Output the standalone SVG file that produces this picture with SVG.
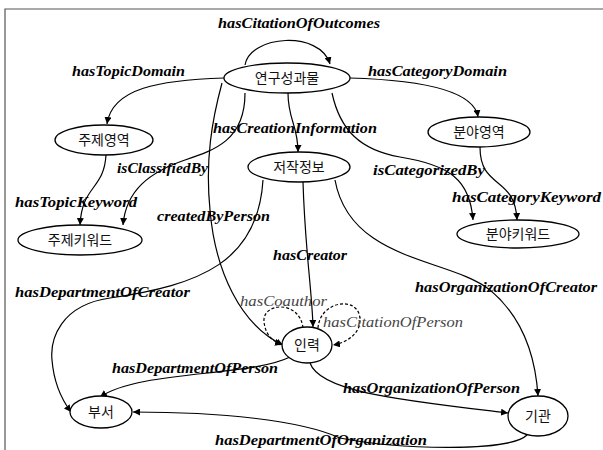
<svg xmlns="http://www.w3.org/2000/svg" width="603" height="450" viewBox="0 0 603 450">
<defs>
<marker id="arr" viewBox="0 0 10 10" refX="10" refY="5" markerWidth="7" markerHeight="7" markerUnits="userSpaceOnUse" orient="auto">
<path d="M0,0 L10,5 L0,10 z" fill="#000"/>
</marker>
<style>
.node ellipse{fill:#fff;stroke:#000;stroke-width:1.3}
.node text{font-family:"Noto Sans CJK KR","Noto Sans",sans-serif;font-size:14px;fill:#111;text-anchor:middle}
.edge{fill:none;stroke:#000;stroke-width:1.2;marker-end:url(#arr)}
.dash{stroke-dasharray:3,2}
.lbl{font-family:"Liberation Serif",serif;font-style:italic;font-weight:bold;font-size:14px;fill:#000}
.lbl2{font-family:"Liberation Serif",serif;font-style:italic;font-size:14px;fill:#444}
.frame{stroke:#555;stroke-width:1.2;fill:none}
</style>
</defs>
<rect width="603" height="450" fill="#fff"/>
<path class="frame" d="M5,450 L5,9 L603,9"/>
<g id="connectors">
<path class="edge" d="M245,65 C250,35 320,30 330,64"/>
<path class="edge" d="M224,78 C160,80 112,88 107,124"/>
<path class="edge" d="M350,78 C420,80 474,90 478,117"/>
<path class="edge" d="M288,93 C288,120 298,125 298,152"/>
<path class="edge" d="M245,93 C245,140 215,150 185,160 C150,172 126,190 123,225"/>
<path class="edge" d="M222,83 C212,120 205,160 210,210 C215,270 240,325 283,345"/>
<path class="edge" d="M332,93 C340,130 360,150 400,157 C450,165 470,180 473,220"/>
<path class="edge" d="M106,155 C104,190 82,185 80,225"/>
<path class="edge" d="M480,147 C480,190 515,175 517,220"/>
<path class="edge" d="M303,182 C305,250 312,290 313,327"/>
<path class="edge" d="M263,180 C258,262 200,285 110,298 C60,305 50,340 52,360 C54,385 62,400 71,412"/>
<path class="edge" d="M335,180 C350,262 450,258 490,290 C520,315 535,350 538,396"/>
<path class="edge dash" d="M303,328 C300,300 262,302 264,322 C266,337 274,342 282,344"/>
<path class="edge dash" d="M318,328 C320,300 360,295 360,320 C360,335 345,343 333,345"/>
<path class="edge" d="M290,357 C250,377 140,370 100,397"/>
<path class="edge" d="M310,363 C320,392 400,400 508,413"/>
<path class="edge" d="M527,435 C510,452 400,450 340,438 C300,420 220,412 133,412"/>
</g>
<g id="edge-labels">
<text class="lbl" x="218" y="28" textLength="162" lengthAdjust="spacingAndGlyphs">hasCitationOfOutcomes</text>
<text class="lbl" x="72" y="76" textLength="113" lengthAdjust="spacingAndGlyphs">hasTopicDomain</text>
<text class="lbl" x="368" y="76" textLength="139" lengthAdjust="spacingAndGlyphs">hasCategoryDomain</text>
<text class="lbl" x="213" y="133" textLength="164" lengthAdjust="spacingAndGlyphs">hasCreationInformation</text>
<text class="lbl" x="117" y="173" textLength="91" lengthAdjust="spacingAndGlyphs">isClassifiedBy</text>
<text class="lbl" x="373" y="175" textLength="112" lengthAdjust="spacingAndGlyphs">isCategorizedBy</text>
<text class="lbl" x="15" y="207" textLength="122" lengthAdjust="spacingAndGlyphs">hasTopicKeyword</text>
<text class="lbl" x="452" y="202" textLength="149" lengthAdjust="spacingAndGlyphs">hasCategoryKeyword</text>
<text class="lbl" x="157" y="221" textLength="113" lengthAdjust="spacingAndGlyphs">createdByPerson</text>
<text class="lbl" x="273" y="260" textLength="74" lengthAdjust="spacingAndGlyphs">hasCreator</text>
<text class="lbl" x="415" y="292" textLength="182" lengthAdjust="spacingAndGlyphs">hasOrganizationOfCreator</text>
<text class="lbl" x="15" y="297" textLength="175" lengthAdjust="spacingAndGlyphs">hasDepartmentOfCreator</text>
<text class="lbl2" x="240" y="306" textLength="87" lengthAdjust="spacingAndGlyphs">hasCoauthor</text>
<text class="lbl2" x="323" y="327" textLength="140" lengthAdjust="spacingAndGlyphs">hasCitationOfPerson</text>
<text class="lbl" x="112" y="373" textLength="166" lengthAdjust="spacingAndGlyphs">hasDepartmentOfPerson</text>
<text class="lbl" x="343" y="393" textLength="177" lengthAdjust="spacingAndGlyphs">hasOrganizationOfPerson</text>
<text class="lbl" x="215" y="445" textLength="212" lengthAdjust="spacingAndGlyphs">hasDepartmentOfOrganization</text>
</g>
<g id="n-outcomes" class="node"><ellipse cx="287" cy="78" rx="63" ry="15"/><text x="287" y="83">연구성과물</text></g>
<g id="n-topicdomain" class="node"><ellipse cx="104" cy="140" rx="49" ry="15"/><text x="104" y="145">주제영역</text></g>
<g id="n-catdomain" class="node"><ellipse cx="479" cy="132" rx="51" ry="15"/><text x="479" y="137">분야영역</text></g>
<g id="n-creation" class="node"><ellipse cx="299" cy="167" rx="51" ry="15"/><text x="299" y="172">저작정보</text></g>
<g id="n-topickw" class="node"><ellipse cx="80" cy="240" rx="62" ry="15"/><text x="80" y="245">주제키워드</text></g>
<g id="n-catkw" class="node"><ellipse cx="518" cy="234" rx="61" ry="14"/><text x="518" y="239">분야키워드</text></g>
<g id="n-person" class="node"><ellipse cx="307" cy="345" rx="25" ry="18"/><text x="307" y="350">인력</text></g>
<g id="n-dept" class="node"><ellipse cx="101" cy="412" rx="31" ry="16"/><text x="101" y="417">부서</text></g>
<g id="n-org" class="node"><ellipse cx="538" cy="416" rx="30" ry="20"/><text x="538" y="421">기관</text></g>
</svg>
